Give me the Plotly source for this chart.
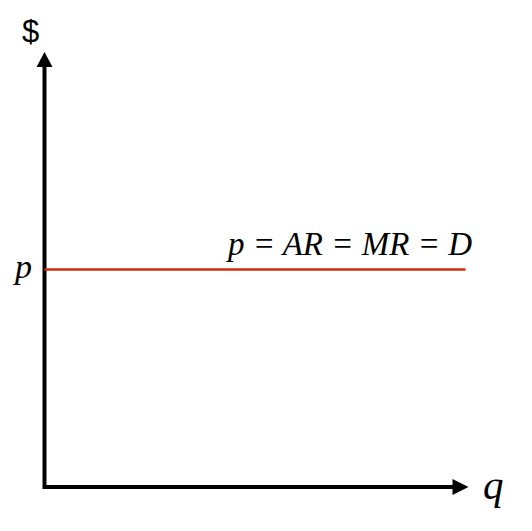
import plotly.graph_objects as go

# Data (model units)
Q_MAX = 10.0          # length of quantity axis
P_MAX = 10.0          # length of price axis
PRICE = 5.0           # market price p
DEMAND_Q = [0.0, 9.93]  # horizontal demand curve extent
DEMAND_LABEL = "p = AR = MR = D"
X_LABEL = "q"
Y_LABEL = "$"
PRICE_LABEL = "p"

W, H = 532, 531
X0_PX, Y0_PX = 44.5, 487.0
PX_X = 42.4
PX_Y = 43.5

xr = [-X0_PX / PX_X, (W - X0_PX) / PX_X]
yr = [-(H - Y0_PX) / PX_Y, Y0_PX / PX_Y]

head_len_y = 15 / PX_Y
head_half_x = 8 / PX_X
head_len_x = 16 / PX_X
head_half_y = 8 / PX_Y

fig = go.Figure()

# axes
fig.add_trace(go.Scatter(
    x=[0, 0, Q_MAX - head_len_x + 0.05],
    y=[P_MAX - head_len_y + 0.05, 0, 0],
    mode="lines", line=dict(color="black", width=4),
    hoverinfo="skip", showlegend=False))

# arrowheads
fig.add_trace(go.Scatter(
    x=[-head_half_x, head_half_x, 0, -head_half_x],
    y=[P_MAX - head_len_y, P_MAX - head_len_y, P_MAX, P_MAX - head_len_y],
    fill="toself", fillcolor="black", mode="lines",
    line=dict(color="black", width=0), hoverinfo="skip", showlegend=False))
fig.add_trace(go.Scatter(
    x=[Q_MAX - head_len_x, Q_MAX - head_len_x, Q_MAX, Q_MAX - head_len_x],
    y=[-head_half_y, head_half_y, 0, -head_half_y],
    fill="toself", fillcolor="black", mode="lines",
    line=dict(color="black", width=0), hoverinfo="skip", showlegend=False))

# demand line
fig.add_trace(go.Scatter(
    x=DEMAND_Q, y=[PRICE, PRICE], mode="lines",
    line=dict(color="#d22a0c", width=2.5),
    hoverinfo="skip", showlegend=False))

SERIF = "Times New Roman, serif"
serif_it = dict(family=SERIF, color="black")

fig.add_annotation(x=-0.53, y=PRICE + 0.08, xref="x", yref="y", text=f"<i>{PRICE_LABEL}</i>",
                   showarrow=False, font=dict(size=34, **serif_it),
                   xanchor="center", yanchor="middle")
fig.add_annotation(x=7.18, y=PRICE + 0.58, xref="x", yref="y", text=f"<i>{DEMAND_LABEL}</i>",
                   showarrow=False, font=dict(size=33, **serif_it),
                   xanchor="center", yanchor="middle")
fig.add_annotation(x=Q_MAX + 0.58, y=0.05, xref="x", yref="y", text=f"<i>{X_LABEL}</i>",
                   showarrow=False, font=dict(size=41, **serif_it),
                   xanchor="center", yanchor="middle")
fig.add_annotation(x=-0.32, y=P_MAX + 0.47, xref="x", yref="y", text=Y_LABEL,
                   showarrow=False, font=dict(size=31, family="Arial, sans-serif", color="black"),
                   xanchor="center", yanchor="middle")

fig.update_layout(
    width=W, height=H, autosize=False,
    margin=dict(l=0, r=0, t=0, b=0),
    paper_bgcolor="white", plot_bgcolor="white",
    xaxis=dict(range=xr, visible=False, fixedrange=True),
    yaxis=dict(range=yr, visible=False, fixedrange=True),
)

fig.write_html("out.html", config={"displayModeBar": False},
               post_script="document.body.style.margin='0';document.body.style.overflow='hidden';")
